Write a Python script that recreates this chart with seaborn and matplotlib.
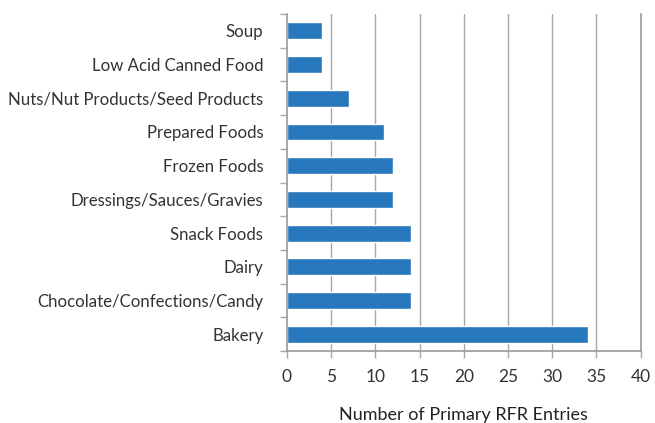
import matplotlib
matplotlib.use("Agg")
import matplotlib.pyplot as plt
import seaborn as sns
import numpy as np
import pandas as pd

categories = ["Soup", "Low Acid Canned Food", "Nuts/Nut Products/Seed Products",
              "Prepared Foods", "Frozen Foods", "Dressings/Sauces/Gravies",
              "Snack Foods", "Dairy", "Chocolate/Confections/Candy", "Bakery"]
values = [4, 4, 7, 11, 12, 12, 14, 14, 14, 34]
xticks = [0, 5, 10, 15, 20, 25, 30, 35, 40]

sns.set_theme(style="white")
plt.rcParams['font.family'] = ['Lato', 'DejaVu Sans']

df = pd.DataFrame({"category": categories, "value": values})

fig = plt.figure(figsize=(6.55, 4.23), dpi=100)
ax = fig.add_axes([0.438, 0.170, 0.540, 0.797])

sns.barplot(data=df, x="value", y="category", order=categories, orient="h",
            color="#2878bd", saturation=1, width=0.5, ax=ax, zorder=3)

ax.set_xlim(0, 40)
ax.set_ylim(len(categories) - 0.5, -0.5)
ax.set_xticks(xticks)
ax.set_xticklabels([str(t) for t in xticks], fontsize=12.5, color="#333333")
for t in xticks[1:-1]:
    ax.axvline(t, color="#a6a6a6", lw=1, zorder=1)

ax.set_yticks(range(len(categories)))
ax.set_yticklabels(categories, fontsize=12.1, color="#333333")
ax.tick_params(axis="y", which="major", length=0, pad=17)
ax.set_yticks(np.arange(-0.5, len(categories), 1), minor=True)
ax.tick_params(axis="y", which="minor", length=5, color="#a6a6a6", width=1, left=True)
ax.tick_params(axis="x", which="major", length=5, color="#a6a6a6", width=1, bottom=True, pad=8)

ax.spines["top"].set_visible(False)
for s in ["left", "bottom", "right"]:
    ax.spines[s].set_visible(True)
    ax.spines[s].set_color("#999999")
    ax.spines[s].set_linewidth(1.2)
    ax.spines[s].set_zorder(5)

ax.set_ylabel("")
ax.set_xlabel("Number of Primary RFR Entries", fontsize=13, color="#222222", labelpad=16)

fig.savefig("out.png", dpi=100)
